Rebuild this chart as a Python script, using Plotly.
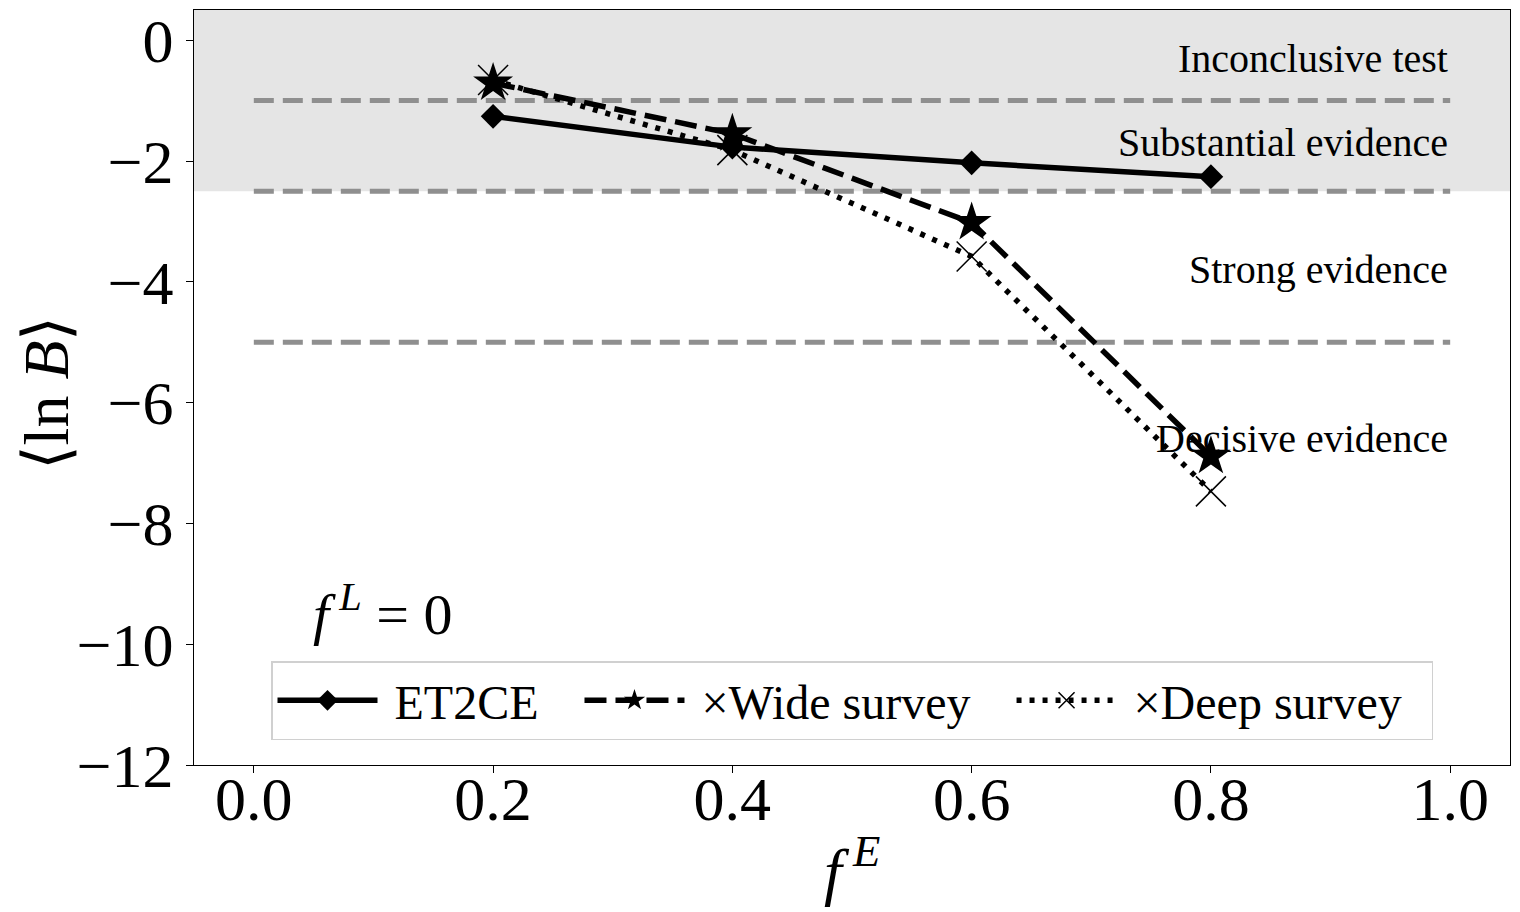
import plotly.graph_objects as go

fE = [0.2, 0.4, 0.6, 0.8]
et2ce = [-1.26, -1.77, -2.03, -2.26]
wide = [-0.71, -1.55, -3.02, -6.89]
deep = [-0.66, -1.82, -3.58, -7.47]

thresholds = [-1.0, -2.5, -5.0]
shade_top = -2.5
region_labels = ["Inconclusive test", "Substantial evidence", "Strong evidence", "Decisive evidence"]
region_label_y = [-0.3, -1.7, -3.8, -6.6]

xticks = [0.0, 0.2, 0.4, 0.6, 0.8, 1.0]
xticktext = ["0.0", "0.2", "0.4", "0.6", "0.8", "1.0"]
yticks = [0, -2, -4, -6, -8, -10, -12]
yticktext = ["0", "−2", "−4", "−6", "−8", "−10", "−12"]

legend_names = ["ET2CE", "×Wide survey", "×Deep survey"]

FONT = "Liberation Serif"
NB = "\u00a0"

fig = go.Figure()

fig.add_trace(go.Scatter(
    x=fE, y=et2ce, name=NB + legend_names[0] + NB * 3, mode="lines+markers",
    line=dict(color="black", width=5.5),
    marker=dict(symbol="diamond", size=19, color="black"),
))
fig.add_trace(go.Scatter(
    x=fE, y=wide, name=NB + legend_names[1] + NB * 3, mode="lines+markers",
    line=dict(color="black", width=5.5, dash="22px,9px"),
    marker=dict(symbol="star", size=30, color="black"),
))
fig.add_trace(go.Scatter(
    x=fE, y=deep, name=NB + legend_names[2] + NB * 2, mode="lines+markers",
    line=dict(color="black", width=5.5, dash="5px,8px"),
    marker=dict(symbol="x-thin-open", size=30, color="black",
                line=dict(color="black", width=1.5)),
))

# shaded region
fig.add_shape(type="rect", xref="paper", yref="y", x0=0, x1=1, y0=shade_top, y1=0.5,
              fillcolor="#e5e5e5", line=dict(width=0), layer="below")
for t in thresholds:
    fig.add_shape(type="line", xref="x", yref="y", x0=0.0, x1=1.0, y0=t, y1=t,
                  line=dict(color="#8f8f8f", width=5, dash="20px,9px"), layer="below")

for lab, yy in zip(region_labels, region_label_y):
    fig.add_annotation(x=1.0, y=yy, text=lab, showarrow=False, xanchor="right",
                       yanchor="middle", font=dict(family=FONT, size=40, color="black"))

fig.add_annotation(x=0.048, y=-9.45, text="<i>f</i><sup> <i>L</i></sup> = 0", showarrow=False,
                   xanchor="left", yanchor="middle", font=dict(family=FONT, size=58, color="black"))

# axis titles
fig.add_annotation(xref="paper", yref="paper", x=0.5, y=-0.135, text="<i>f</i><sup> <i>E</i></sup>",
                   showarrow=False, xanchor="center", yanchor="middle",
                   font=dict(family=FONT, size=64, color="black"))
fig.add_annotation(xref="paper", yref="paper", x=-0.112, y=0.493, text="⟨ln <i>B</i>⟩",
                   showarrow=False, xanchor="center", yanchor="middle", textangle=-90,
                   font=dict(family=FONT, size=64, color="black"))

fig.update_layout(
    width=1520, height=912,
    margin=dict(l=186, r=18, t=2, b=155),
    plot_bgcolor="white", paper_bgcolor="white",
    font=dict(family=FONT, color="black"),
    showlegend=True,
    legend=dict(orientation="h", x=0.5, y=0.033, xanchor="center", yanchor="bottom",
                bgcolor="rgba(255,255,255,0.8)", bordercolor="#d0d0d0", borderwidth=1.5,
                font=dict(family=FONT, size=48, color="black"),
                itemwidth=100, entrywidth=0, tracegroupgap=0),
)
fig.update_xaxes(range=[-0.05, 1.05], tickvals=xticks, ticktext=xticktext,
                 tickfont=dict(family=FONT, size=62), showgrid=False, zeroline=False,
                 showline=True, linecolor="black", linewidth=1.2, mirror=True,
                 ticks="outside", ticklen=7, tickcolor="black", tickwidth=1.2,
                 ticklabelstandoff=-28, ticklabeloverflow="allow", automargin=False)
fig.update_yaxes(range=[-12, 0.5], tickvals=yticks, ticktext=yticktext,
                 tickfont=dict(family=FONT, size=62), showgrid=False, zeroline=False,
                 showline=True, linecolor="black", linewidth=1.2, mirror=True,
                 ticks="outside", ticklen=7, tickcolor="black", tickwidth=1.2,
                 ticklabeloverflow="allow", automargin=False)

fig.write_html("out.html")
